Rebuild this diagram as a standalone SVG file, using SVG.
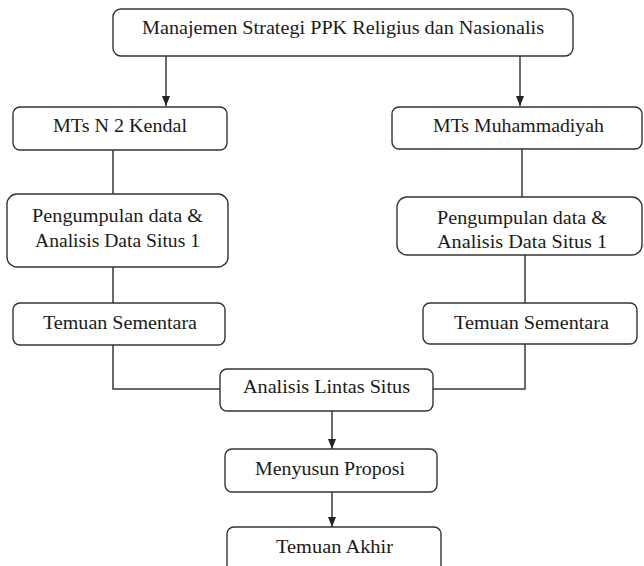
<svg xmlns="http://www.w3.org/2000/svg" width="644" height="566" viewBox="0 0 644 566">
<style>
.box{fill:#fff;stroke:#333;stroke-width:1.4}
.t{font-family:'Times New Roman','Liberation Serif',Tinos,'DejaVu Serif',serif;font-size:18px;fill:#1a1a1a;text-anchor:middle}
.c{fill:none;stroke:#3a3a3a;stroke-width:1.5}
</style>
<defs>
<marker id="ah" markerUnits="userSpaceOnUse" markerWidth="10" markerHeight="8" refX="10" refY="4" orient="auto">
<path d="M0,0 L10,4 L0,8 z" fill="#222"/>
</marker>
</defs>
<rect width="644" height="566" fill="#fff"/>
<g id="connectors">
<line class="c" x1="166" y1="56" x2="166" y2="106" marker-end="url(#ah)"/>
<line class="c" x1="520" y1="56" x2="520" y2="106" marker-end="url(#ah)"/>
<line class="c" x1="113" y1="150" x2="113" y2="194"/>
<line class="c" x1="522" y1="149" x2="522" y2="197"/>
<line class="c" x1="113" y1="267" x2="113" y2="303"/>
<line class="c" x1="525" y1="255" x2="525" y2="303"/>
<polyline class="c" points="113,345 113,389 220,389"/>
<polyline class="c" points="525,344 525,389 433,389"/>
<line class="c" x1="332" y1="411" x2="332" y2="449" marker-end="url(#ah)"/>
<line class="c" x1="332" y1="492" x2="332" y2="527" marker-end="url(#ah)"/>
</g>
<g id="top">
<rect class="box" x="113" y="9" width="460" height="47" rx="8"/>
<text class="t" x="343" y="34" textLength="402" lengthAdjust="spacingAndGlyphs">Manajemen Strategi PPK Religius dan Nasionalis</text>
</g>
<g id="mts1">
<rect class="box" x="13" y="107" width="214" height="43" rx="7"/>
<text class="t" x="120" y="132" textLength="134" lengthAdjust="spacingAndGlyphs">MTs N 2 Kendal</text>
</g>
<g id="mts2">
<rect class="box" x="392" y="107" width="250" height="42" rx="7"/>
<text class="t" x="518.5" y="132" textLength="171" lengthAdjust="spacingAndGlyphs">MTs Muhammadiyah</text>
</g>
<g id="peng1">
<rect class="box" x="7" y="194" width="221" height="73" rx="10"/>
<text class="t" x="117.5" y="222" textLength="171" lengthAdjust="spacingAndGlyphs">Pengumpulan data &amp;</text>
<text class="t" x="117.5" y="247" textLength="165" lengthAdjust="spacingAndGlyphs">Analisis Data Situs 1</text>
</g>
<g id="peng2">
<rect class="box" x="397" y="197" width="245" height="58" rx="10"/>
<text class="t" x="522" y="224" textLength="170" lengthAdjust="spacingAndGlyphs">Pengumpulan data &amp;</text>
<text class="t" x="522" y="248" textLength="170" lengthAdjust="spacingAndGlyphs">Analisis Data Situs 1</text>
</g>
<g id="tem1">
<rect class="box" x="13" y="303" width="212" height="42" rx="7"/>
<text class="t" x="120" y="329" textLength="154" lengthAdjust="spacingAndGlyphs">Temuan Sementara</text>
</g>
<g id="tem2">
<rect class="box" x="423" y="303" width="214" height="41" rx="7"/>
<text class="t" x="531.5" y="329" textLength="155" lengthAdjust="spacingAndGlyphs">Temuan Sementara</text>
</g>
<g id="analisis">
<rect class="box" x="220" y="369" width="213" height="42" rx="7"/>
<text class="t" x="326.5" y="393" textLength="167" lengthAdjust="spacingAndGlyphs">Analisis Lintas Situs</text>
</g>
<g id="menyusun">
<rect class="box" x="225" y="449" width="212" height="43" rx="7"/>
<text class="t" x="330" y="475" textLength="150" lengthAdjust="spacingAndGlyphs">Menyusun Proposi</text>
</g>
<g id="akhir">
<rect class="box" x="227" y="527" width="214" height="50" rx="7"/>
<text class="t" x="334.5" y="553" textLength="117" lengthAdjust="spacingAndGlyphs">Temuan Akhir</text>
</g>
</svg>
